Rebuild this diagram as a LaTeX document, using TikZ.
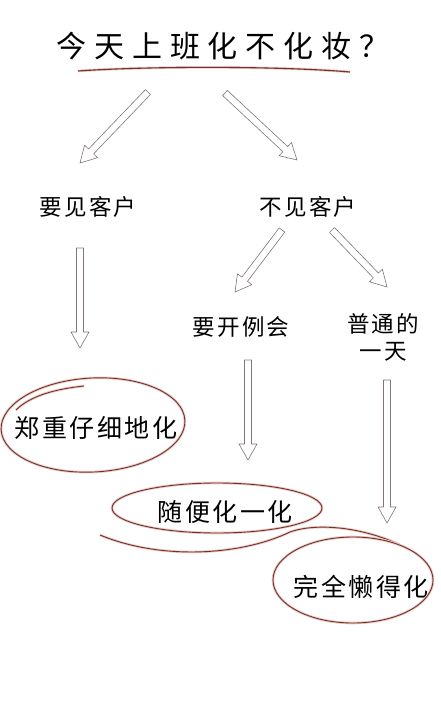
\documentclass[tikz,border=0pt]{standalone}
\usepackage{fontspec}
\usepackage{tikz}
\usetikzlibrary{calc}
\newfontfamily\cjk[LetterSpace=10]{Noto Sans CJK SC}
\newfontfamily\cjktitle[LetterSpace=26]{Noto Sans CJK SC}
\definecolor{inkred}{RGB}{112,52,46}
\definecolor{halo}{RGB}{238,200,194}
\definecolor{arrowgray}{RGB}{128,118,118}

\begin{document}
\begin{tikzpicture}[x=1pt,y=-1pt,
    word/.style={font=\cjk\fontsize{22.5}{27}\selectfont, inner sep=0pt},
    bigword/.style={font=\cjk\fontsize{25}{28}\selectfont, inner sep=0pt},
    ring/.style={draw=inkred, line width=0.9pt, preaction={draw=halo, line width=2.6pt}},
    hollow/.style={draw=arrowgray, line width=0.6pt, line join=round, to path={
      ($(\tikztostart)!3.5pt!90:(\tikztotarget)$)
      -- ($(\tikztotarget)!16pt!(\tikztostart)!3.5pt!-90:(\tikztostart)$)
      -- ($(\tikztotarget)!16pt!(\tikztostart)!9pt!-90:(\tikztostart)$)
      -- (\tikztotarget)
      -- ($(\tikztotarget)!16pt!(\tikztostart)!9pt!90:(\tikztostart)$)
      -- ($(\tikztotarget)!16pt!(\tikztostart)!3.5pt!90:(\tikztostart)$)
      -- ($(\tikztostart)!3.5pt!-90:(\tikztotarget)$) -- cycle}}]
	\fill[white] (0,0) rectangle (440,722);
	\useasboundingbox (0,0) rectangle (440,722);

	% question
	\node[font=\cjktitle\fontsize{30}{32}\selectfont, inner sep=0pt] (title) at (223,46) {今天上班化不化妆？};
	\draw[ring, line width=1.1pt] (78,71) .. controls (150,66) and (280,66) .. (350,72);

	% first split
	\node[word] (meet) at (88,207) {要见客户};
	\node[word] (nomeet) at (308,207) {不见客户};
	\coordinate (a1s) at (148,92);
	\coordinate (a1e) at (80,163);
	\coordinate (a2s) at (225,93);
	\coordinate (a2e) at (297,160);
	\draw[hollow] (a1s) to (a1e);
	\draw[hollow] (a2s) to (a2e);

	% second split
	\node[word] (meeting) at (241,327) {要开例会};
	\node[word, align=center] (ordinary) at (383,337) {普通的\\一天};
	\coordinate (a4s) at (282,230);
	\coordinate (a4e) at (235,292);
	\coordinate (a5s) at (332,230);
	\coordinate (a5e) at (387,287);
	\draw[hollow] (a4s) to (a4e);
	\draw[hollow] (a5s) to (a5e);

	% down to the answers
	\coordinate (a3s) at (80,248);
	\coordinate (a3e) at (80,348);
	\coordinate (a6s) at (248,360);
	\coordinate (a6e) at (248,460);
	\coordinate (a7s) at (387,380);
	\coordinate (a7e) at (387,523);
	\draw[hollow] (a3s) to (a3e);
	\draw[hollow] (a6s) to (a6e);
	\draw[hollow] (a7s) to (a7e);

	% answers
	\node[bigword] (careful) at (96,428) {郑重仔细地化};
	\node[bigword] (casual) at (225,512) {随便化一化};
	\node[bigword] (lazy) at (361,587) {完全懒得化};

	\draw[ring, rotate around={3:(93,425)}] (93,425) ellipse [x radius=92, y radius=47];
	\draw[ring] (16,410) .. controls (30,396) and (55,389) .. (84,386);
	\draw[ring] (217,508) ellipse [x radius=105, y radius=25];
	\draw[ring] (100,535) .. controls (160,560) and (240,556) .. (290,532)
		.. controls (318,522) and (365,528) .. (400,545);
	\draw[ring] (353,580) ellipse [x radius=80, y radius=43];
\end{tikzpicture}
\end{document}
